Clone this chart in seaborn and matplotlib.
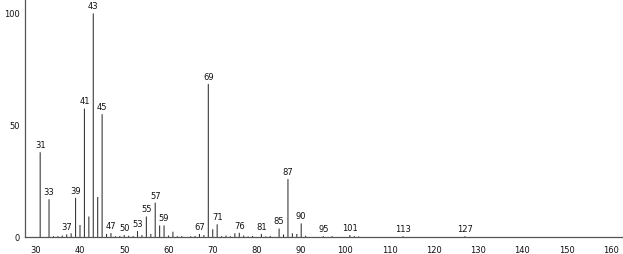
import matplotlib
matplotlib.use("Agg")
import matplotlib.pyplot as plt
from matplotlib.ticker import MultipleLocator
import seaborn as sns
import pandas as pd

mz = [31, 33, 34, 35, 36, 37, 38, 39, 40, 41, 42, 43, 44, 45, 46, 47, 48, 49, 50,
      51, 52, 53, 54, 55, 56, 57, 58, 59, 60, 61, 62, 63, 65, 66, 67, 68, 69, 70,
      71, 72, 73, 74, 75, 76, 77, 78, 79, 81, 82, 83, 85, 86, 87, 88, 89, 90, 91,
      95, 97, 101, 102, 103, 113, 127]
intensity = [38, 17, 0.5, 0.5, 0.8, 1.3, 1.8, 17.6, 5.5, 57.5, 9.3, 100, 18, 55, 1.5, 1.9,
             0.5, 0.6, 1.0, 0.7, 0.6, 2.8, 1.0, 9.3, 1.5, 15.5, 5.3, 5.3, 0.8, 2.5, 0.5,
             0.5, 0.5, 0.6, 1.5, 1.0, 68.5, 3.6, 5.8, 0.5, 0.8, 0.5, 1.8, 2.0, 0.8, 0.4,
             0.6, 1.5, 0.4, 0.6, 3.9, 1.3, 26, 1.8, 1.5, 6.2, 0.7, 0.5, 0.5, 1.0, 0.5,
             0.4, 0.5, 0.5]
labeled = [31, 33, 37, 39, 41, 43, 45, 47, 50, 53, 55, 57, 59, 67, 69, 71, 76, 81,
           85, 87, 90, 95, 101, 113, 127]
x_ticks = [30, 40, 50, 60, 70, 80, 90, 100, 110, 120, 130, 140, 150, 160]
y_ticks = [0, 50, 100]

df = pd.DataFrame({"mz": mz, "intensity": intensity})

sns.set_style("white")
plt.rcParams["font.family"] = ["DejaVu Sans"]

W, H = 623, 254
fig = plt.figure(figsize=(W / 100, H / 100), dpi=100)
left_px, right_px, bottom_px, top_px = 25, 622, 237.3, 0
ax = fig.add_axes([left_px / W, (H - bottom_px) / H,
                   (right_px - left_px) / W, (bottom_px - top_px) / H])

sns.barplot(data=df, x="mz", y="intensity", native_scale=True, width=0.24,
            color="#333333", saturation=1, linewidth=0, ax=ax)
for p in ax.patches:
    p.set_snap(False)

ax.set_xlim(27.57, 162.5)
ax.set_ylim(0, 106)

lookup = dict(zip(mz, intensity))
for m in labeled:
    ax.annotate(str(m), (m, lookup[m]), xytext=(0, 1.5), textcoords="offset points",
                ha="center", va="bottom", fontsize=6, color="#111111")

ax.set_xticks(x_ticks)
ax.set_xticklabels([str(t) for t in x_ticks])
ax.xaxis.set_minor_locator(MultipleLocator(2))
ax.set_yticks(y_ticks)
ax.set_yticklabels([str(t) for t in y_ticks])
ax.yaxis.set_minor_locator(MultipleLocator(25))

ax.tick_params(axis="x", which="major", direction="out", length=4, width=0.8,
               color="#555555", labelsize=6, pad=2, labelcolor="#111111")
ax.tick_params(axis="x", which="minor", direction="inout", length=3, width=0.6,
               color="#555555")
ax.tick_params(axis="y", which="major", direction="out", length=3, width=0.8,
               color="#555555", labelsize=6, pad=1, labelcolor="#111111")
ax.tick_params(axis="y", which="minor", direction="out", length=1.5, width=0.6,
               color="#999999")

for s in ["top", "right"]:
    ax.spines[s].set_visible(False)
for s in ["left", "bottom"]:
    ax.spines[s].set_color("#555555")
    ax.spines[s].set_linewidth(0.9)

ax.set_xlabel("")
ax.set_ylabel("")
ax.grid(False)

fig.savefig("out.png", dpi=100)
